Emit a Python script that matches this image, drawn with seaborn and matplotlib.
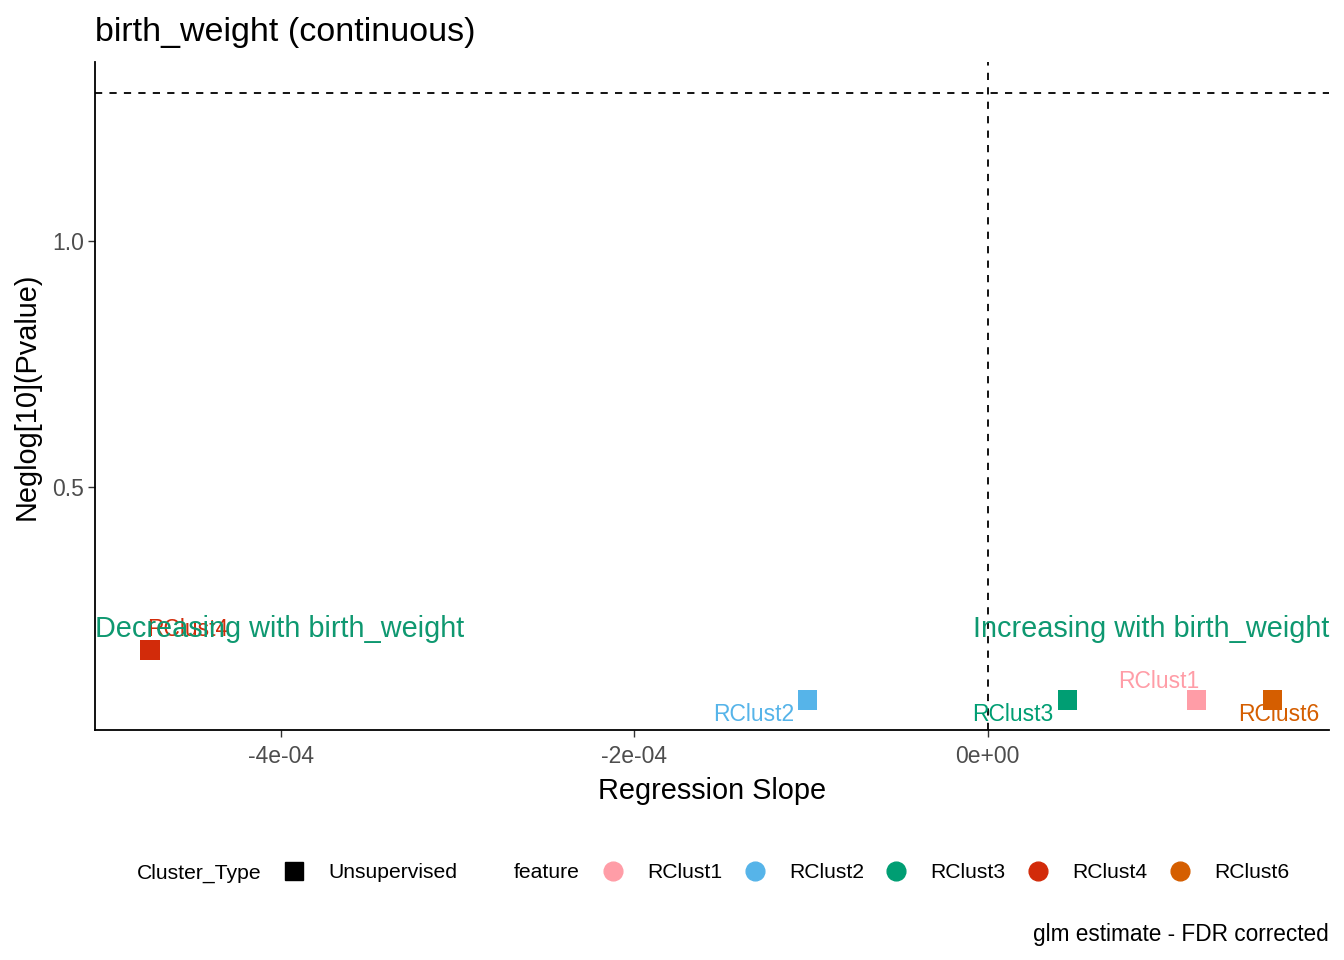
import matplotlib
matplotlib.use("Agg")
import matplotlib.pyplot as plt
from matplotlib.lines import Line2D
import seaborn as sns
import pandas as pd

features = ["RClust1", "RClust2", "RClust3", "RClust4", "RClust6"]
slopes = [1.18e-4, -1.02e-4, 0.45e-4, -4.74e-4, 1.61e-4]
neglog_p = [0.067, 0.067, 0.067, 0.169, 0.067]
cluster_type = ["Unsupervised"] * 5
colors = ["#FF9DA7", "#56B4E9", "#009E73", "#D22B0A", "#D55E00"]
x_ticks = [-4e-4, -2e-4, 0.0]
x_tick_labels = ["-4e-04", "-2e-04", "0e+00"]
y_ticks = [0.5, 1.0]
y_tick_labels = ["0.5", "1.0"]
# label offsets in pixels (dx, dy) mimicking ggrepel placement
label_offsets = [(-38, 18), (-54, -15), (-55, -15), (38, 20), (6, -15)]

df = pd.DataFrame({"feature": features, "slope": slopes, "neglogp": neglog_p,
                   "Cluster_Type": cluster_type})
palette = dict(zip(features, colors))

sns.set_theme(style="white")
plt.rcParams["font.family"] = ["Liberation Sans", "DejaVu Sans"]
plt.rcParams["text.color"] = "black"

fig = plt.figure(figsize=(13.44, 9.6), dpi=100)
ax = fig.add_axes([95 / 1344, 1 - 730 / 960, (1329 - 95) / 1344, (730 - 62) / 960])

sns.scatterplot(data=df, x="slope", y="neglogp", hue="feature", palette=palette,
                marker="s", s=200, linewidth=0, legend=False, ax=ax)

ax.set_xlim(-5.05e-4, 1.93e-4)
ax.set_ylim(0.006, 1.364)
ax.axvline(0, color="black", linestyle=(0, (4, 4)), linewidth=1.3, zorder=0)
ax.axhline(1.30103, color="black", linestyle=(0, (4, 4)), linewidth=1.3, zorder=0)

for f, x, y, c, (dx, dy) in zip(features, slopes, neglog_p, colors, label_offsets):
    ax.annotate(f, (x, y), xytext=(dx, dy), textcoords="offset pixels",
                ha="center", va="center", color=c, fontsize=16.5)

ax.text(-5.05e-4, 0.211, "Decreasing with birth_weight", ha="left", va="center",
        color="#0E9870", fontsize=20.8)
ax.text(1.93e-4, 0.211, "Increasing with birth_weight", ha="right", va="center",
        color="#0E9870", fontsize=20.8)

ax.set_xticks(x_ticks)
ax.set_xticklabels(x_tick_labels)
ax.set_yticks(y_ticks)
ax.set_yticklabels(y_tick_labels)
ax.tick_params(axis="both", which="both", length=5, width=1, color="#333333",
               labelcolor="#4D4D4D", labelsize=16.5, bottom=True, left=True, pad=3)
ax.tick_params(axis="x", pad=6)
for side in ["top", "right"]:
    ax.spines[side].set_visible(False)
for side in ["left", "bottom"]:
    ax.spines[side].set_color("black")
    ax.spines[side].set_linewidth(1.3)

ax.set_xlabel("Regression Slope", fontsize=20.8, color="black", labelpad=6)
ax.set_ylabel("Neglog[10](Pvalue)", fontsize=20.8, color="black", labelpad=8)
ax.set_title("birth_weight (continuous)", fontsize=24.5, loc="left", pad=15, color="black")

# legend at bottom
ly = 1 - 871 / 960
lty = 1 - 873 / 960
lfs = 15.2
fig.text(137 / 1344, lty, "Cluster_Type", fontsize=lfs, va="center", ha="left", color="black")
fig.add_artist(Line2D([294 / 1344], [ly], marker="s", color="black", markersize=13.5,
                      linestyle="none", transform=fig.transFigure))
fig.text(328 / 1344, lty, "Unsupervised", fontsize=lfs, va="center", ha="left", color="black")
fig.text(514 / 1344, lty, "feature", fontsize=lfs, va="center", ha="left", color="black")
key_x = [613, 755, 896, 1038, 1180]
for kx, f, c in zip(key_x, features, colors):
    fig.add_artist(Line2D([kx / 1344], [ly], marker="o", color=c, markersize=13.5,
                          linestyle="none", transform=fig.transFigure))
    fig.text((kx + 34) / 1344, lty, f, fontsize=lfs, va="center", ha="left", color="black")

fig.text(1329 / 1344, 1 - 934 / 960, "glm estimate - FDR corrected", fontsize=16.3,
         va="center", ha="right", color="black")

fig.savefig("out.png", dpi=100, facecolor="white")
